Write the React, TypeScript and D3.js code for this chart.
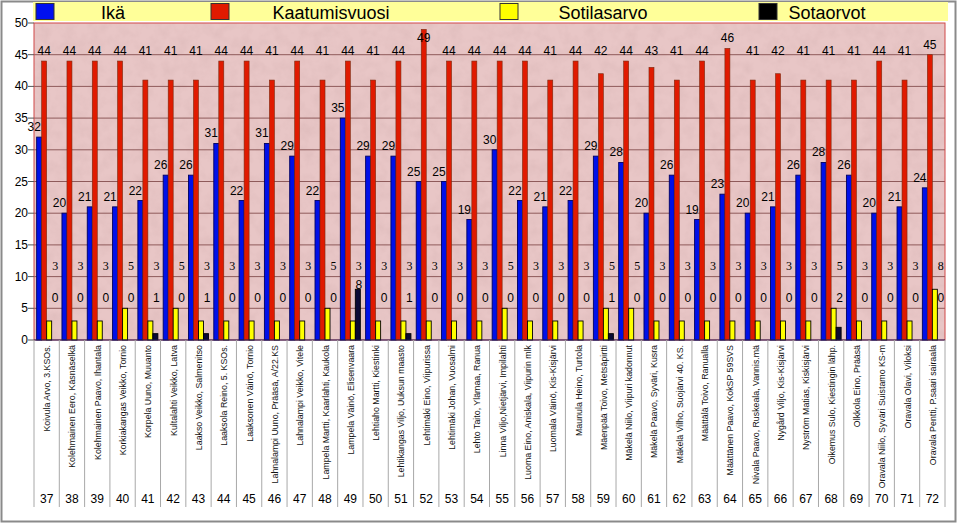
import React from "react";
import * as d3 from "d3";

const categories = ["37","38","39","40","41","42","43","44","45","46","47","48","49","50","51","52","53","54","55","56","57","58","59","60","61","62","63","64","65","66","67","68","69","70","71","72"];
const names = [
  "Koivula Arvo, 3.KSOs.",
  "Kolehmainen Eero, Käsnäselkä",
  "Kolehmainen Paavo, Ihantala",
  "Korkiakangas Veikko, Tornio",
  "Korpela Uuno, Muuanto",
  "Kultalahti Veikko, Latva",
  "Laakso Veikko, Salmenitso",
  "Laaksola Reino, 5. KSOs.",
  "Laaksonen Väinö, Tornio",
  "Lahnalampi Uuno, Prääsä, A/22.KS",
  "Lahnalampi Veikko, Vitele",
  "Lampela Martti, Kaarlahti, Kaukola",
  "Lampela Väinö, Elisenvaara",
  "Lehtiaho Martti, Kiestinki",
  "Lehtikangas Viljo, Uuksun maasto",
  "Lehtimäki Eino, Viipurissa",
  "Lehtimäki Johan, Vuosalmi",
  "Lehto Taito, Ylämaa, Ranua",
  "Linna Viljo,Nietjärvi, Impilahti",
  "Luoma Eino, Aniskala, Viipurin mlk",
  "Luomala Väinö, Kis-Kisjärvi",
  "Maunula Heino, Turtola",
  "Mäenpää Toivo, Metsäpirtti",
  "Mäkelä Niilo, Viipuri kadonnut",
  "Mäkelä Paavo, Syväri, Kusra",
  "Mäkelä Vilho, Suojärvi 40. KS.",
  "Määttälä Toivo, Ranualla",
  "Määttänen Paavo, KokSP 59SVS",
  "Nivala Paavo, Ruskeala, Vannis.mä",
  "Nygård Viljo, Kis-Kisjärvi",
  "Nyström Matias, Kiskisjärvi",
  "Oikemus Sulo, Kiestingin lähp.",
  "Olkkola Eino, Prääsä",
  "Oravala Niilo, Syväri Suistamo KS-m",
  "Oravala Olavi, Viloksi",
  "Oravala Pentti, P.saari sairaala"
];
const ika = [32,20,21,21,22,26,26,31,22,31,29,22,35,29,29,25,25,19,30,22,21,22,29,28,20,26,19,23,20,21,26,28,26,20,21,24];
const kaatumisvuosi = [44,44,44,44,41,41,41,44,44,41,44,41,44,41,44,49,44,44,44,44,41,44,42,44,43,41,44,46,41,42,41,41,41,44,41,45];
const sotilasarvo = [3,3,3,5,3,5,3,3,3,3,3,5,3,3,3,3,3,3,5,3,3,3,5,5,3,3,3,3,3,3,3,5,3,3,3,8];
const sotaorvot = [0,0,0,0,1,0,1,0,0,0,0,0,8,0,1,0,0,0,0,0,0,0,1,0,0,0,0,0,0,0,0,2,0,0,0,0];
const seriesNames = ["Ikä", "Kaatumisvuosi", "Sotilasarvo", "Sotaorvot"];
const yTicks = [0, 5, 10, 15, 20, 25, 30, 35, 40, 45, 50];

const W = 960, H = 525;
const plotL = 34, plotR = 945, plotT = 23, plotB = 340;
const seriesFill = ["#0010e8", "#e01a00", "#ffff00", "#0a0a35"];
const seriesStroke = ["#000060", "#7a2a10", "#000000", "#000000"];
const legendSwatchX = [36, 211, 500, 759];
const legendTextX = [113, 331, 603, 827];
const legendFill = ["#0010f0", "#e01a00", "#ffff00", "#000000"];

export default function App() {
  const y = d3.scaleLinear().domain([0, 50]).range([plotB, plotT]);
  const x = d3.scaleBand<string>().domain(categories).range([plotL, plotR]).paddingInner(0).paddingOuter(0);
  const bw = x.bandwidth();
  const x1 = d3.scaleBand<string>().domain(seriesNames).range([0, bw]).paddingInner(0).paddingOuter(0.53);
  const sw = x1.bandwidth();
  const values = [ika, kaatumisvuosi, sotilasarvo, sotaorvot];
  const sans = "'Liberation Sans', Arial, sans-serif";
  const serif = "'Liberation Serif', 'Times New Roman', serif";

  return (
    <div>
      <style>{`body{margin:0}`}</style>
      <svg width={W} height={H} style={{ display: "block" }}>
        <defs>
          <filter id="marble" x="0" y="0" width="100%" height="100%">
            <feTurbulence type="fractalNoise" baseFrequency="0.08" numOctaves="3" seed="3" result="n" />
            <feColorMatrix type="matrix" values="0 0 0 0 0.55  0 0 0 0 0.35  0 0 0 0 0.35  0 0 0 -1.2 0.75" />
          </filter>
        </defs>
        <rect x={0} y={0} width={W} height={H} fill="#ffffff" />
        <rect x={1.5} y={1.5} width={954} height={520} fill="none" stroke="#8a8a8a" strokeWidth={2} />
        {/* legend band */}
        <rect x={33} y={2} width={915} height={19} fill="#ffff99" />
        {seriesNames.map((s, i) => (
          <g key={s}>
            <rect x={legendSwatchX[i]} y={3.5} width={18} height={16} fill={legendFill[i]} stroke="#333" strokeWidth={1} />
            <text x={legendTextX[i]} y={19} textAnchor="middle" fontFamily={sans} fontSize={18} fill="#000">{s}</text>
          </g>
        ))}
        {/* plot background */}
        <rect x={plotL} y={plotT} width={plotR - plotL} height={plotB - plotT} fill="#e8c6c6" />
        <rect x={plotL} y={plotT} width={plotR - plotL} height={plotB - plotT} filter="url(#marble)" opacity={0.3} />
        {yTicks.filter(t => t > 0 && t < 50).map(t => (
          <line key={t} x1={plotL} x2={plotR} y1={y(t)} y2={y(t)} stroke="#8e5a5a" strokeWidth={1} />
        ))}
        <rect x={plotL} y={plotT} width={plotR - plotL} height={plotB - plotT} fill="none" stroke="#d04848" strokeWidth={1} />
        {/* y axis */}
        {yTicks.map(t => (
          <g key={t}>
            <line x1={plotL - 6} x2={plotL} y1={y(t)} y2={y(t)} stroke="#555" />
            <text x={28} y={y(t) + 4} textAnchor="end" fontFamily={sans} fontSize={12} fill="#000">{t}</text>
          </g>
        ))}
        {/* bars */}
        {categories.map((c, ci) => (
          <g key={c}>
            {values.map((vals, si) => {
              const v = vals[ci];
              if (v <= 0) return null;
              const bx = (x(c) as number) + (x1(seriesNames[si]) as number);
              return (
                <rect key={si} x={bx} y={y(v)} width={sw} height={plotB - y(v)} fill={seriesFill[si]} stroke={seriesStroke[si]} strokeWidth={si === 1 ? 0.6 : 0.9} />
              );
            })}
          </g>
        ))}
        {/* value labels */}
        {categories.map((c, ci) => {
          const bx0 = x(c) as number;
          const cx = (s: number) => bx0 + (x1(seriesNames[s]) as number) + sw / 2;
          const kBase = Math.max(Math.min(y(kaatumisvuosi[ci]), y(44)) - 6, 42);
          return (
            <g key={c} fontFamily={sans} fontSize={12} fill="#000">
              <text x={cx(0) - 5} y={y(ika[ci]) - 6} textAnchor="middle">{ika[ci]}</text>
              <text x={cx(1)} y={kBase} textAnchor="middle">{kaatumisvuosi[ci]}</text>
              <text x={cx(3) + 1} y={y(Math.max(sotilasarvo[ci], 11))} textAnchor="middle" fontFamily={serif} fontSize={12}>{sotilasarvo[ci]}</text>
              <text x={cx(3) + 1} y={y(Math.max(sotaorvot[ci], 6))} textAnchor="middle">{sotaorvot[ci]}</text>
            </g>
          );
        })}
        <line x1={plotL} x2={plotR} y1={plotB} y2={plotB} stroke="#202060" strokeWidth={1.2} />
        {/* category axis */}
        {categories.map((c, ci) => {
          const xl = x(c) as number;
          return (
            <g key={c}>
              <line x1={xl} x2={xl} y1={plotB} y2={507} stroke="#a8a8a8" />
              <text transform={`translate(${xl + bw / 2 + 3.5},345) rotate(-90)`} textAnchor="end" fontFamily={sans} fontSize={8.8} fill="#111">{names[ci]}</text>
              <text x={xl + bw / 2} y={503} textAnchor="middle" fontFamily={sans} fontSize={12} fill="#000">{c}</text>
            </g>
          );
        })}
        <line x1={plotR} x2={plotR} y1={plotB} y2={507} stroke="#a8a8a8" />
      </svg>
    </div>
  );
}
